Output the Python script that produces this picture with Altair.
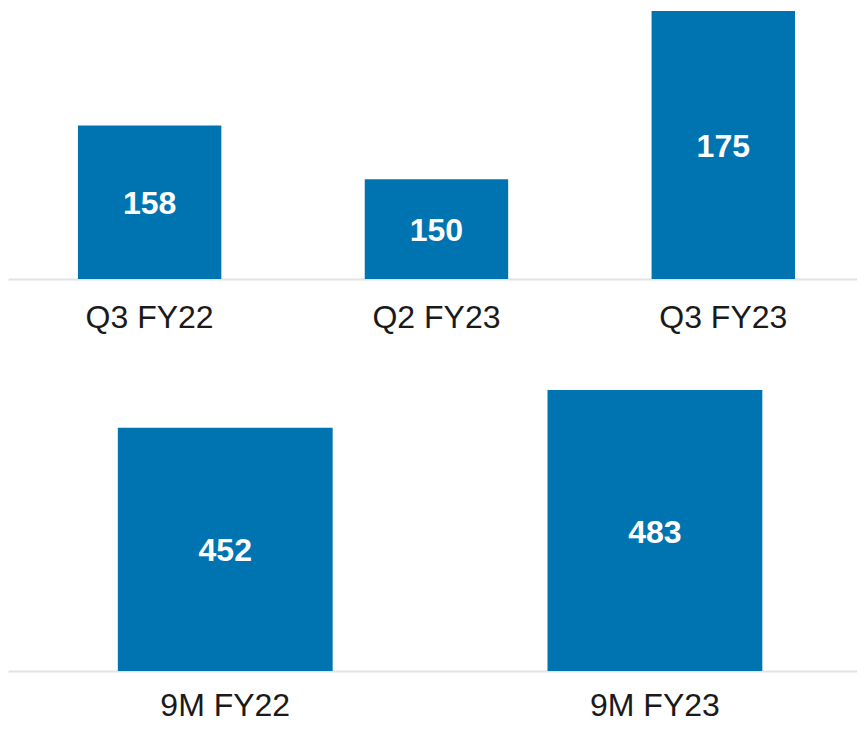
import altair as alt
import pandas as pd

top_cats = ["Q3 FY22", "Q2 FY23", "Q3 FY23"]
top_vals = [158, 150, 175]
bot_cats = ["9M FY22", "9M FY23"]
bot_vals = [452, 483]

BLUE = "#0074B0"
FONT = "Liberation Sans"


def panel(cats, vals, lo, hi, h, w, pad, outer, align):
    df = pd.DataFrame({"cat": cats, "value": vals})
    x = alt.X(
        "cat:N", sort=cats, title=None,
        scale=alt.Scale(paddingInner=0.5, paddingOuter=outer, align=align),
        axis=alt.Axis(labelAngle=0, labelFontSize=32, labelFont=FONT,
                      labelColor="#1a1a1a", labelPadding=pad, ticks=False,
                      domainColor="#e3e3e3", domainWidth=2, grid=False),
    )
    yscale = alt.Scale(domain=[lo, hi], nice=False, zero=False)
    base = alt.Chart(df).encode(x=x)
    bars = base.mark_bar(color=BLUE).encode(
        y=alt.Y("value:Q", scale=yscale, axis=None),
        y2=alt.Y2(datum=lo),
    )
    labels = base.mark_text(color="white", fontWeight="bold", fontSize=32,
                            font=FONT, baseline="middle", dy=2).transform_calculate(
        mid=f"(datum.value + {lo}) / 2"
    ).encode(
        y=alt.Y("mid:Q", scale=yscale, axis=None),
        text="value:Q",
    )
    return alt.layer(bars, labels).properties(width=w, height=h)


top = panel(top_cats, top_vals, 135.2, 175, 268, 849, 23, 0.23, 0.53)
bot = panel(bot_cats, bot_vals, 253, 483, 281, 849, 19, 0.238, 0.537)

chart = alt.vconcat(top, bot, spacing=57).properties(
    padding={"left": 0, "top": 3, "right": 0, "bottom": 0},
    background="white",
).configure_view(strokeWidth=0, stroke="transparent")

chart.save("out.html", embed_options={"renderer": "svg", "actions": False})
